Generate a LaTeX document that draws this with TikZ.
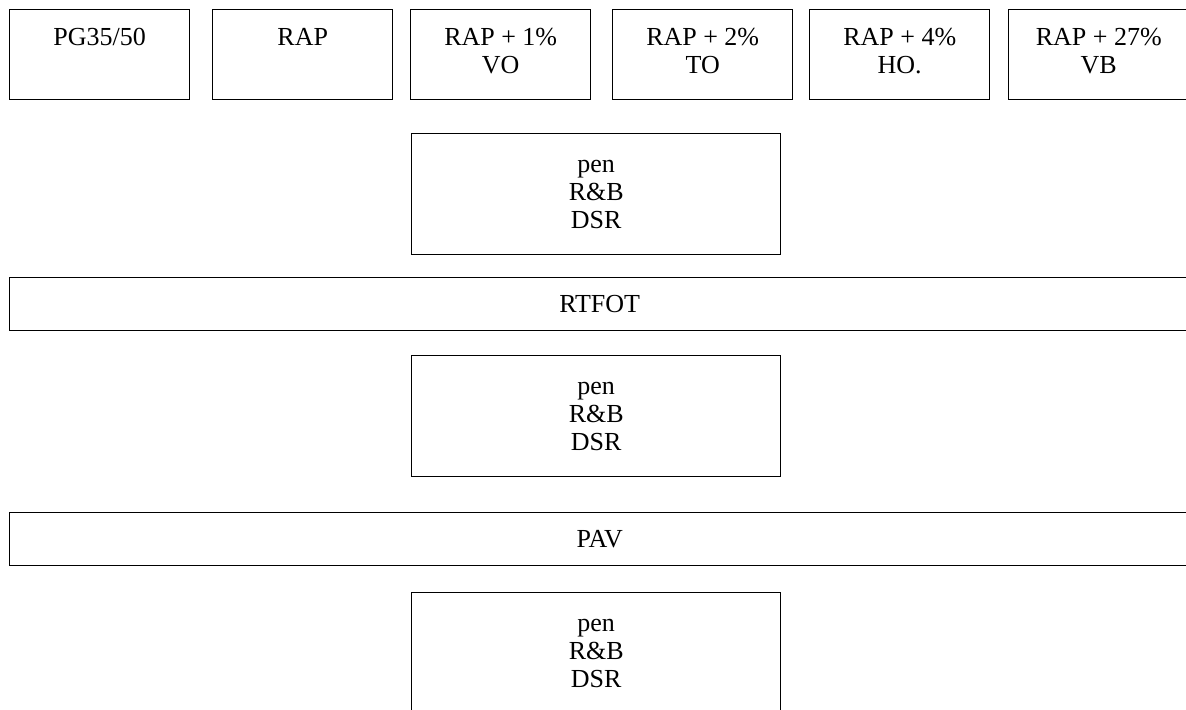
\documentclass[tikz,border=0pt]{standalone}
\usepackage{fontspec}
\setmainfont{Liberation Serif}
\usetikzlibrary{positioning}
\tikzset{
  box/.style={draw, line width=0.7pt, inner sep=0pt, anchor=north west},
  topbox/.style={box, minimum width=90pt, minimum height=45pt},
  testbox/.style={box, minimum width=184.5pt, minimum height=60.5pt, align=center,
    font=\fontsize{13}{14}\selectfont},
  bar/.style={box, minimum width=590pt, minimum height=26.5pt,
    font=\fontsize{13}{14}\selectfont},
  toptext/.style={anchor=north, inner sep=0pt, align=center,
    font=\fontsize{13}{14}\selectfont}
}
\begin{document}
\begin{tikzpicture}[x=0.5pt,y=-0.5pt]
    \useasboundingbox (0,0) rectangle (1186,709);
    % binders
    \node[topbox] (pg) at (9,9) {};
    \node[topbox] (rap) at (212,9) {};
    \node[topbox] (vo) at (410,9) {};
    \node[topbox] (to) at (612,9) {};
    \node[topbox] (ho) at (809,9) {};
    \node[topbox] (vb) at (1008,9) {};
    \node[toptext, below=8.2pt of pg.north] (pg-t) {\strut PG35/50};
    \node[toptext, below=8.2pt of rap.north] (rap-t) {\strut RAP};
    \node[toptext, below=8.2pt of vo.north] (vo-t) {\strut RAP + 1\%\\VO};
    \node[toptext, below=8.2pt of to.north] (to-t) {\strut RAP + 2\%\\TO};
    \node[toptext, below=8.2pt of ho.north] (ho-t) {\strut RAP + 4\%\\HO.};
    \node[toptext, below=8.2pt of vb.north] (vb-t) {\strut RAP + 27\%\\VB};
    % tests and ageing
    \node[testbox] (test1) at (411,133) {pen\\R\&B\\DSR};
    \node[bar] (rtfot) at (9,277) {RTFOT};
    \node[testbox] (test2) at (411,355) {pen\\R\&B\\DSR};
    \node[bar] (pav) at (9,512) {PAV};
    \node[testbox] (test3) at (411,592) {pen\\R\&B\\DSR};
\end{tikzpicture}
\end{document}
